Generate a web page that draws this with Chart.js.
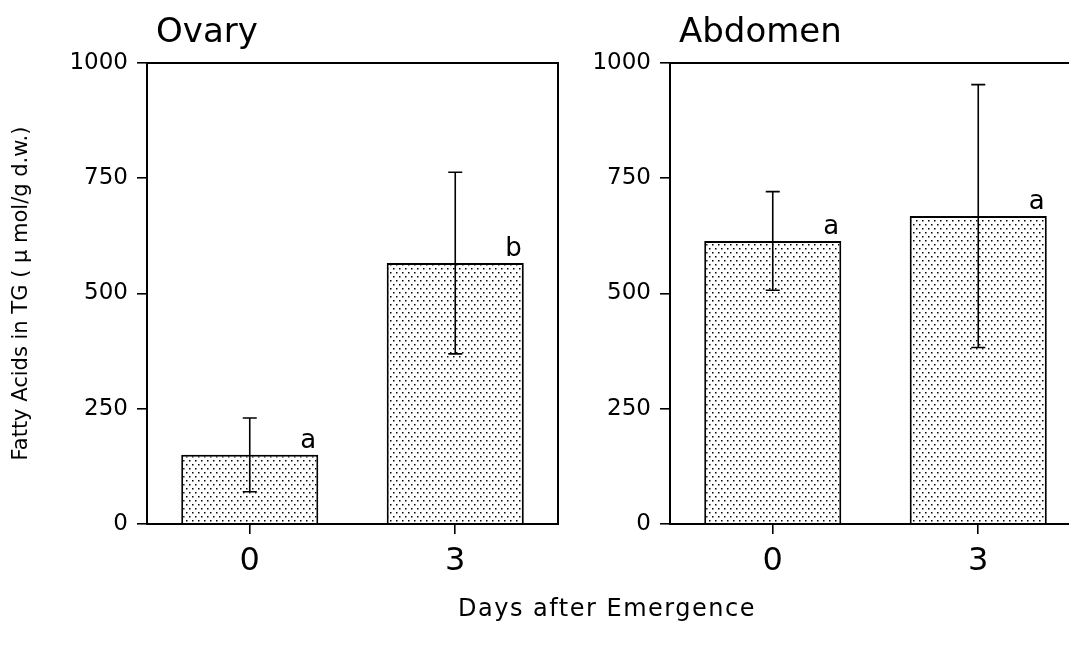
<!DOCTYPE html>
<html>
<head>
<meta charset="utf-8">
<script src="https://cdn.jsdelivr.net/npm/chart.js@4.4.0/dist/chart.umd.min.js"></script>
<style>
    body { margin: 0; background: #fff; overflow: hidden; }
    #page { position: relative; width: 1069px; height: 647px; overflow: hidden; }
    .panel { position: absolute; top: 0; width: 570px; height: 600px; }
    #ovary-panel { left: 0; }
    #abdomen-panel { left: 523px; }
    #x-title {
        position: absolute; left: 0; width: 1214px; top: 594px;
        text-align: center; font-family: 'DejaVu Sans', sans-serif;
        font-size: 24px; letter-spacing: 1.5px; color: #000;
    }
</style>
</head>
<body>
<div id="page">
    <div class="panel" id="ovary-panel"><canvas id="ovary-chart"></canvas></div>
    <div class="panel" id="abdomen-panel"><canvas id="abdomen-chart"></canvas></div>
    <div id="x-title">Days after Emergence</div>
</div>
<script>
// Days after emergence
const days = ['0', '3'];

// Ovary
const ovaryMeans = [150, 566];
const ovaryErrors = [80, 197];
const ovaryLetters = ['a', 'b'];

// Abdomen
const abdomenMeans = [614, 668];
const abdomenErrors = [107, 285];
const abdomenLetters = ['a', 'a'];

const yTicks = [0, 250, 500, 750, 1000];
const yTitle = 'Fatty Acids in TG ( \u03bc mol/g d.w.)';

const FONT = "'DejaVu Sans', sans-serif";

function makeDots() {
    const c = document.createElement('canvas');
    c.width = 6;
    c.height = 8;
    const g = c.getContext('2d');
    g.fillStyle = '#fff';
    g.fillRect(0, 0, 6, 8);
    g.fillStyle = '#000';
    g.fillRect(0, 0, 1.5, 1.5);
    g.fillRect(3, 4, 1.5, 1.5);
    return g.createPattern(c, 'repeat');
}

// draws the box, error bars, letters and panel title
const panelExtras = {
    id: 'panelExtras',
    afterDatasetsDraw(chart, args, opts) {
        const ctx = chart.ctx;
        const y = chart.scales.y;
        const meta = chart.getDatasetMeta(0);
        const area = chart.chartArea;

        ctx.save();
        ctx.strokeStyle = '#000';
        ctx.lineWidth = 1.6;
        meta.data.forEach((bar, i) => {
            const v = opts.means[i];
            const e = opts.errors[i];
            const top = y.getPixelForValue(v + e);
            const bot = y.getPixelForValue(v - e);
            ctx.beginPath();
            ctx.moveTo(bar.x, top);
            ctx.lineTo(bar.x, bot);
            ctx.moveTo(bar.x - 7, top);
            ctx.lineTo(bar.x + 7, top);
            ctx.moveTo(bar.x - 7, bot);
            ctx.lineTo(bar.x + 7, bot);
            ctx.stroke();

            ctx.fillStyle = '#000';
            ctx.font = '26px ' + FONT;
            ctx.textAlign = 'right';
            ctx.textBaseline = 'alphabetic';
            ctx.fillText(opts.letters[i], bar.x + bar.width / 2 - 2, bar.y - 7);
        });

        ctx.lineWidth = 2;
        ctx.strokeRect(area.left, area.top, area.right - area.left, area.bottom - area.top);

        ctx.fillStyle = '#000';
        ctx.font = '34px ' + FONT;
        ctx.textAlign = 'left';
        ctx.textBaseline = 'alphabetic';
        ctx.fillText(opts.title, area.left + 9, area.top - 21);
        ctx.restore();
    }
};

function makePanel(canvasId, title, means, errors, letters, showYTitle) {
    const ctx = document.getElementById(canvasId).getContext('2d');
    return new Chart(ctx, {
        type: 'bar',
        data: {
            labels: days,
            datasets: [{
                data: means,
                backgroundColor: makeDots(),
                borderColor: '#000',
                borderWidth: 2,
                borderSkipped: 'start',
                barPercentage: 0.667,
                categoryPercentage: 1
            }]
        },
        options: {
            responsive: true,
            maintainAspectRatio: false,
            animation: false,
            layout: { padding: { top: 63, right: 12, left: 0, bottom: 0 } },
            plugins: {
                legend: { display: false },
                tooltip: { enabled: false },
                panelExtras: { title: title, means: means, errors: errors, letters: letters }
            },
            scales: {
                x: {
                    grid: { offset: false, drawOnChartArea: false, drawTicks: true, tickLength: 10, color: '#000', lineWidth: 1.6 },
                    border: { color: '#000', width: 2 },
                    ticks: { color: '#000', font: { family: FONT, size: 32 }, padding: 8 },
                    afterFit(scale) { scale.height = 76; }
                },
                y: {
                    min: 0,
                    max: 1000,
                    afterBuildTicks(scale) { scale.ticks = yTicks.map(v => ({ value: v })); },
                    grid: { drawOnChartArea: false, drawTicks: true, tickLength: 10, color: '#000', lineWidth: 1.6 },
                    border: { color: '#000', width: 2 },
                    ticks: {
                        color: '#000',
                        font: { family: FONT, size: 23 },
                        padding: 9,
                        callback: v => String(v)
                    },
                    title: {
                        display: showYTitle,
                        text: yTitle,
                        color: '#000',
                        font: { family: FONT, size: 21 },
                        padding: { top: 9, bottom: 0 }
                    },
                    afterFit(scale) { scale.width = 147; }
                }
            }
        },
        plugins: [panelExtras]
    });
}

makePanel('ovary-chart', 'Ovary', ovaryMeans, ovaryErrors, ovaryLetters, true);
makePanel('abdomen-chart', 'Abdomen', abdomenMeans, abdomenErrors, abdomenLetters, false);
</script>
</body>
</html>
